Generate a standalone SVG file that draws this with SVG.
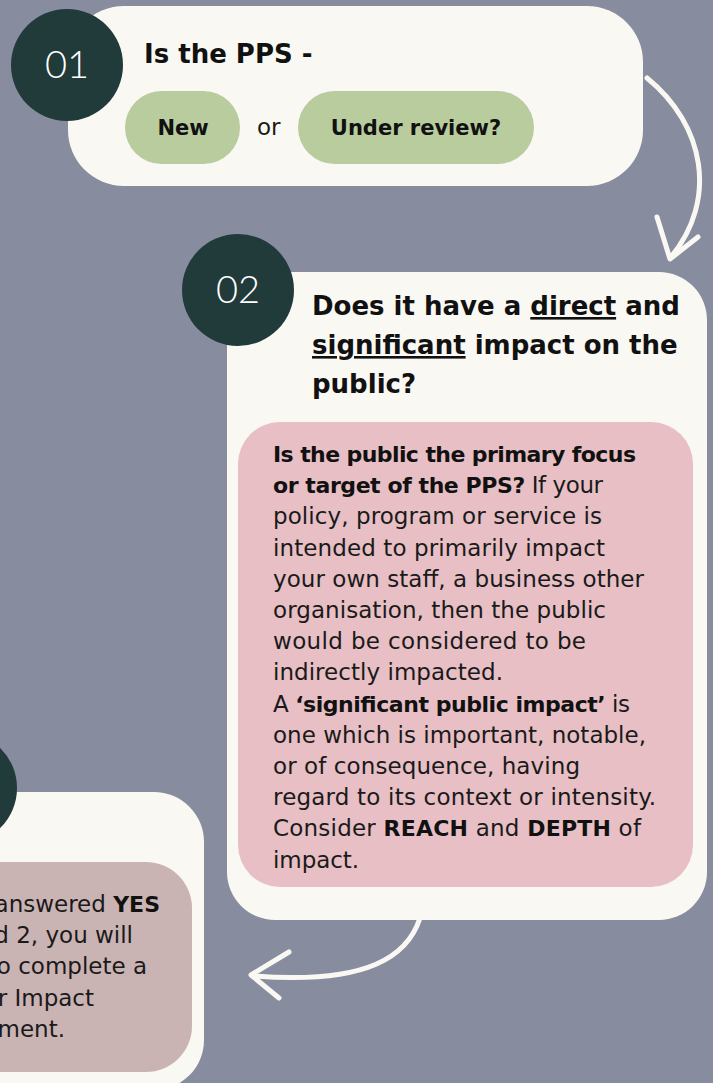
<svg xmlns="http://www.w3.org/2000/svg" width="713" height="1083" viewBox="0 0 713 1083">
  <style>
    .card { fill: #f9f8f3; }
    .badge { fill: #213a3a; }
    .pill { fill: #b8cc9d; }
    .num { font-family: "Lato", "DejaVu Sans", sans-serif; font-weight: 300; font-size: 38px; fill: #ffffff; text-anchor: middle; }
    .head { font-family: "DejaVu Sans", sans-serif; font-weight: bold; font-size: 26px; fill: #111111; }
    .pilltxt { font-family: "DejaVu Sans", sans-serif; font-weight: bold; font-size: 21px; fill: #111111; text-anchor: middle; }
    .body { font-family: "DejaVu Sans", sans-serif; font-size: 23px; fill: #1a1a1a; }
    .b { font-weight: bold; font-size: 22px; fill: #111111; }
    .u { text-decoration: underline; }
    .arrow { fill: none; stroke: #f9f8f3; stroke-width: 5; stroke-linecap: round; stroke-linejoin: round; }
  </style>

  <rect width="713" height="1083" fill="#878c9f"/>

  <!-- connectors between the steps -->
  <g id="connectors">
    <path class="arrow" d="M647,78 C705,125 718,200 671,257"/>
    <path class="arrow" d="M657,217 L670,259 L698,237"/>
    <path class="arrow" d="M420,918 C408,955 370,985 254,976"/>
    <path class="arrow" d="M289,952 L251,975 L279,998"/>
  </g>

  <!-- step 1 -->
  <g id="step1">
    <rect class="card" x="68" y="6" width="575" height="180" rx="56"/>
    <circle class="badge" cx="67" cy="65" r="56"/>
    <text class="num" x="67" y="78">01</text>
    <text class="head" x="144" y="63">Is the PPS -</text>
    <rect class="pill" x="125" y="91" width="115" height="73" rx="36.5"/>
    <text class="pilltxt" x="183" y="135">New</text>
    <text class="body" x="257" y="135" font-size="21">or</text>
    <rect class="pill" x="298" y="91" width="236" height="73" rx="36.5"/>
    <text class="pilltxt" x="416" y="135">Under review?</text>
  </g>

  <!-- step 2 -->
  <g id="step2">
    <rect class="card" x="227" y="272" width="480" height="648" rx="48"/>
    <circle class="badge" cx="238" cy="290" r="56"/>
    <text class="num" x="238" y="303">02</text>
    <text class="head" x="312" y="315">Does it have a <tspan class="u">direct</tspan> and</text>
    <text class="head" x="312" y="354"><tspan class="u">significant</tspan> impact on the</text>
    <text class="head" x="312" y="393">public?</text>
    <rect x="238" y="422" width="455" height="465" rx="42" fill="#e7bfc4"/>
    <g class="body">
      <text x="273" y="462" textLength="363" lengthAdjust="spacing"><tspan class="b">Is the public the primary focus</tspan></text>
      <text x="273" y="493.2" textLength="330" lengthAdjust="spacing"><tspan class="b">or target of the PPS?</tspan> If your</text>
      <text x="273" y="524.4" textLength="329" lengthAdjust="spacing">policy, program or service is</text>
      <text x="273" y="555.6" textLength="332" lengthAdjust="spacing">intended to primarily impact</text>
      <text x="273" y="586.8" textLength="371" lengthAdjust="spacing">your own staff, a business other</text>
      <text x="273" y="618" textLength="333" lengthAdjust="spacing">organisation, then the public</text>
      <text x="273" y="649.2" textLength="313" lengthAdjust="spacing">would be considered to be</text>
      <text x="273" y="680.4" textLength="230" lengthAdjust="spacing">indirectly impacted.</text>
      <text x="273" y="711.6" textLength="357" lengthAdjust="spacing">A <tspan class="b">‘significant public impact’</tspan> is</text>
      <text x="273" y="742.8" textLength="373" lengthAdjust="spacing">one which is important, notable,</text>
      <text x="273" y="774" textLength="307" lengthAdjust="spacing">or of consequence, having</text>
      <text x="273" y="805.2" textLength="383" lengthAdjust="spacing">regard to its context or intensity.</text>
      <text x="273" y="836.4" textLength="368" lengthAdjust="spacing">Consider <tspan class="b">REACH</tspan> and <tspan class="b">DEPTH</tspan> of</text>
      <text x="273" y="867.6" textLength="86" lengthAdjust="spacing">impact.</text>
    </g>
  </g>

  <!-- step 3 (runs off the left edge) -->
  <g id="step3">
    <rect class="card" x="-300" y="792" width="504" height="298" rx="50"/>
    <circle class="badge" cx="-39" cy="788" r="56"/>
    <rect x="-300" y="862" width="492" height="210" rx="46" fill="#cab3b3"/>
    <g class="body" text-anchor="end">
      <text x="160" y="912">answered <tspan class="b">YES</tspan></text>
      <text x="133" y="943.2">d 2, you will</text>
      <text x="147" y="974.4">o complete a</text>
      <text x="94" y="1005.6">r Impact</text>
      <text x="65" y="1036.8">ment.</text>
    </g>
  </g>
</svg>
